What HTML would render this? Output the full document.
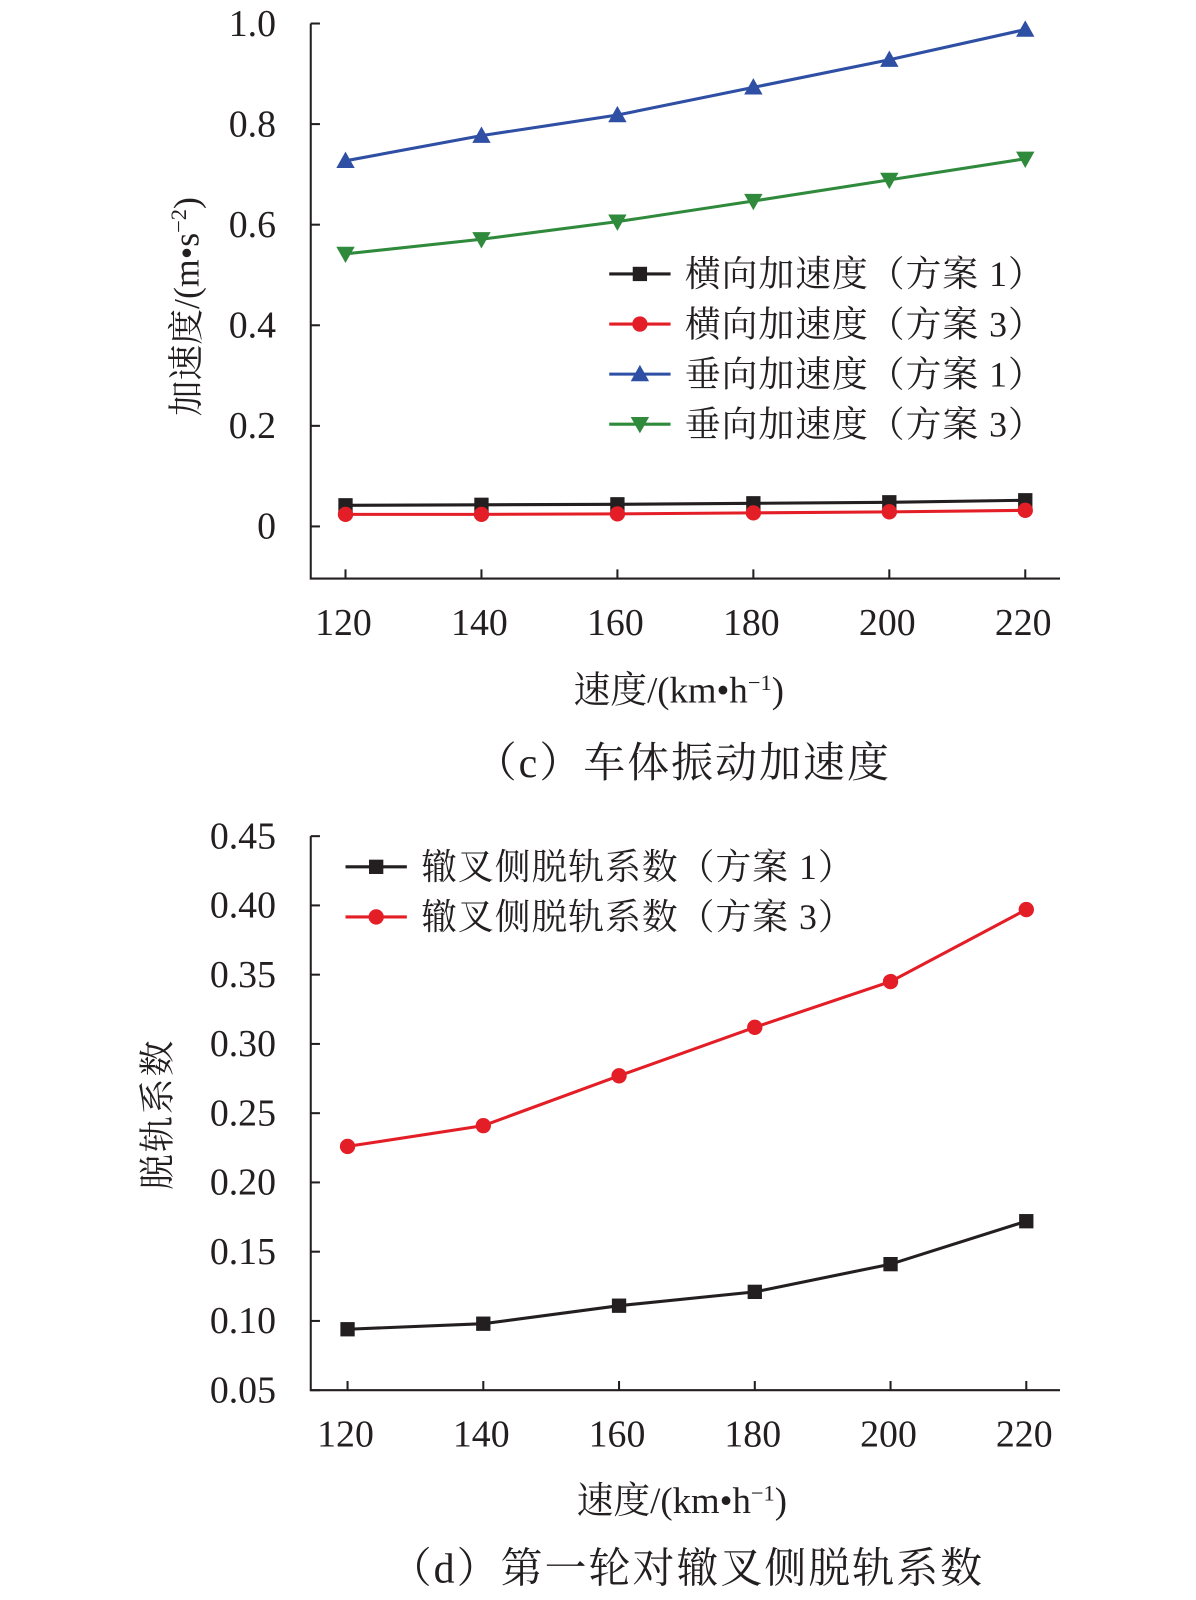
<!DOCTYPE html>
<html><head><meta charset="utf-8"><style>
html,body{margin:0;padding:0;background:#fff;}
svg{display:block;}
text{font-family:"Liberation Serif","Noto Serif CJK SC",serif;fill:#231f20;}
</style></head><body>
<svg width="1196" height="1600" viewBox="0 0 1196 1600" xmlns="http://www.w3.org/2000/svg"><g id="svg" transform="scale(1.0222)"></g></svg>
<script>
const speeds = [120,140,160,180,200,220];
const latAcc1 = [0.042,0.043,0.044,0.046,0.048,0.052];
const latAcc3 = [0.024,0.024,0.025,0.027,0.029,0.032];
const verAcc1 = [0.727,0.777,0.818,0.873,0.928,0.988];
const verAcc3 = [0.542,0.571,0.606,0.647,0.689,0.731];
const topYTicks = [0,0.2,0.4,0.6,0.8,1.0];
const topYLabels = ["0","0.2","0.4","0.6","0.8","1.0"];
const derail1 = [0.094,0.098,0.111,0.121,0.141,0.172];
const derail3 = [0.226,0.241,0.277,0.312,0.345,0.397];
const botYTicks = [0.05,0.10,0.15,0.20,0.25,0.30,0.35,0.40,0.45];
const botYLabels = ["0.05","0.10","0.15","0.20","0.25","0.30","0.35","0.40","0.45"];

const NS="http://www.w3.org/2000/svg";
const svg=document.getElementById('svg');
function mk(tag,attrs,parent){const e=document.createElementNS(NS,tag);for(const k in attrs)e.setAttribute(k,attrs[k]);(parent||svg).appendChild(e);return e;}
function txt(s,attrs,parent){const e=mk('text',attrs,parent);e.textContent=s;return e;}
function marker(g,type,x,y,color){
  let m;
  if(type==='sq'){m=mk('rect',{x:x-7,y:y-7,width:14,height:14,fill:color},g);}
  else if(type==='ci'){m=mk('circle',{cx:x,cy:y,r:7.5,fill:color},g);}
  else if(type==='up'){m=mk('polygon',{points:`${x},${y-9} ${x-9},${y+7} ${x+9},${y+7}`,fill:color},g);}
  else {m=mk('polygon',{points:`${x},${y+9} ${x-9},${y-7} ${x+9},${y-7}`,fill:color},g);}
  
  
}
function chart(o){
  const g=mk('g',{});
  
  
  const xs=v=>o.x0+(v-120)/100*(o.x1-o.x0);
  const ys=v=>o.yA+(v-o.vA)/(o.vB-o.vA)*(o.yB-o.yA);
  const ax=mk('path',{d:`M${o.axX},${o.axTop} V${o.axBot} H${o.axRight}`,fill:'none',stroke:'#231f20','stroke-width':2},g);
  
  
  o.yt.forEach((v,i)=>{
    const y=ys(v);
    mk('line',{x1:o.axX,x2:o.axX+9,y1:y,y2:y,stroke:'#231f20','stroke-width':2},g);
    const t=txt(o.yl[i],{x:o.axX-34,y:y+12,'font-size':37,'text-anchor':'end'},g);
    
    
  });
  speeds.forEach(s=>{
    const x=xs(s);
    mk('line',{x1:x,x2:x,y1:o.axBot,y2:o.axBot-9,stroke:'#231f20','stroke-width':2},g);
    const t=txt(String(s),{x:x-2,y:o.axBot+55,'font-size':37,'text-anchor':'middle'},g);
    
    
  });
  o.series.forEach(se=>{
    const sg=mk('g',{},g);
    
    
    const p=mk('polyline',{points:se.vals.map((v,i)=>xs(speeds[i])+','+ys(v)).join(' '),fill:'none',stroke:se.color,'stroke-width':3},sg);
    
    
    se.vals.forEach((v,i)=>marker(sg,se.mk,xs(speeds[i]),ys(v),se.color));
  });
  o.series.forEach((se,i)=>{
    const lg=mk('g',{},g);
    
    
    const y=o.legY+i*o.legDy;
    mk('line',{x1:o.legX,x2:o.legX+60,y1:y,y2:y,stroke:se.color,'stroke-width':3},lg);
    marker(lg,se.mk,o.legX+30,y,se.color);
    txt(se.label,{x:o.legX+74,y:y+12,'font-size':35,'letter-spacing':1},lg);
  });
  if(o.ytitle){
  const yt=txt(o.ytitle,{x:0,y:0,'font-size':35,'text-anchor':'middle','letter-spacing':2,transform:`translate(${o.ytX},${o.ytY}) rotate(-90)`},g);
  
  
  }
  const xt=mk('text',{x:o.xtX,y:o.xtY,'font-size':36,'text-anchor':'middle'},g);
  xt.innerHTML='速度/(km•h<tspan dy="-12" font-size="22">−1</tspan><tspan dy="12">)</tspan>';
  
  
  const cap=txt(o.caption,{x:o.capX,y:o.capY,'font-size':41,'text-anchor':'middle','letter-spacing':2},g);
  
  
}
chart({name:'acceleration-chart',x0:338,x1:1003,axX:304,axTop:23,axBot:566,axRight:1037,
  yA:515,vA:0,yB:23,vB:1.0,yt:topYTicks,yl:topYLabels,
  series:[
    {name:'series-lateral-1',vals:latAcc1,color:'#231f20',mk:'sq',label:'横向加速度（方案 1）'},
    {name:'series-lateral-3',vals:latAcc3,color:'#e31e26',mk:'ci',label:'横向加速度（方案 3）'},
    {name:'series-vertical-1',vals:verAcc1,color:'#2e4fa3',mk:'up',label:'垂向加速度（方案 1）'},
    {name:'series-vertical-3',vals:verAcc3,color:'#2f8a3c',mk:'dn',label:'垂向加速度（方案 3）'}],
  legX:596,legY:268,legDy:49,ytitle:'',ytX:182,ytY:300,xtX:664,xtY:687,
  caption:'（c）车体振动加速度',capX:668,capY:760});
(function(){
  const t=mk('text',{x:0,y:0,'font-size':35,'text-anchor':'middle',transform:'translate(194,300) rotate(-90)'});
  t.innerHTML='加速度/(m•s<tspan dy="-12" font-size="22">−2</tspan><tspan dy="12">)</tspan>';
  
  
})();
chart({name:'derailment-chart',x0:340,x1:1004,axX:304,axTop:818,axBot:1360,axRight:1037,
  yA:1360,vA:0.05,yB:818,vB:0.45,yt:botYTicks,yl:botYLabels,
  series:[
    {name:'series-derail-1',vals:derail1,color:'#231f20',mk:'sq',label:'辙叉侧脱轨系数（方案 1）'},
    {name:'series-derail-3',vals:derail3,color:'#e31e26',mk:'ci',label:'辙叉侧脱轨系数（方案 3）'}],
  legX:338,legY:848,legDy:49,ytitle:'脱轨系数',ytX:166,ytY:1090,xtX:667,xtY:1480,
  caption:'（d）第一轮对辙叉侧脱轨系数',capX:672,capY:1548});
</script>
</body></html>
